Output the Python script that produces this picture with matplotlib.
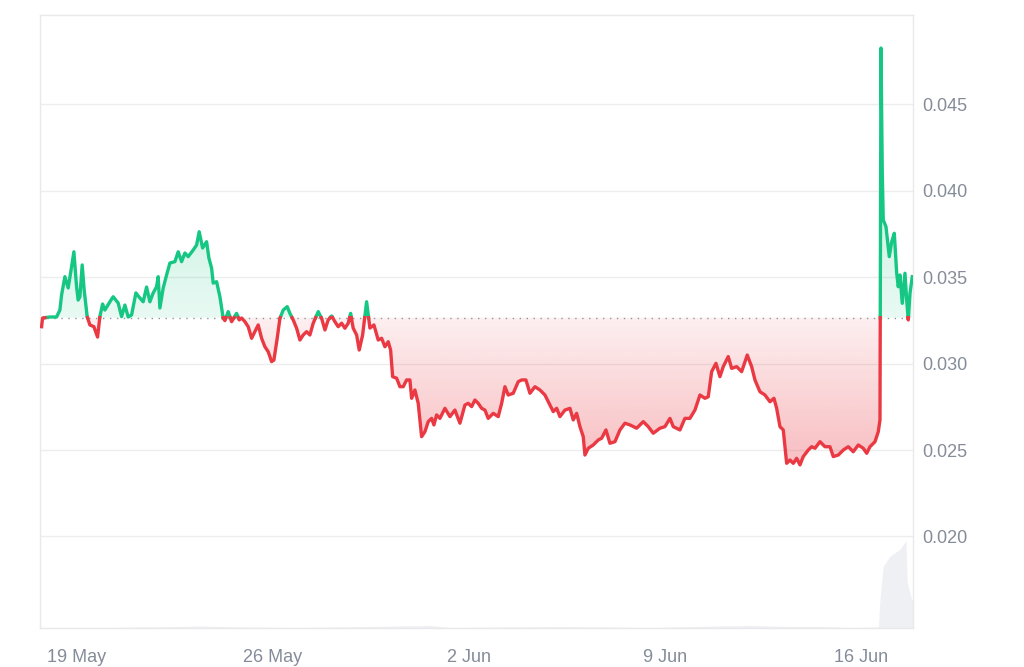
import numpy as np
import matplotlib.pyplot as plt
import matplotlib.dates as mdates
from matplotlib.colors import to_rgb
from matplotlib.path import Path

plt.rcParams['font.family'] = ['Liberation Sans', 'DejaVu Sans']

# price series, days counted from 19 May
days = [-1.241, -1.206, -0.945, -0.706, -0.589, -0.528, -0.410, -0.293, -0.207, -0.089,
        0.007, 0.064, 0.125, 0.207, 0.278, 0.385, 0.482, 0.624, 0.756, 0.838,
        0.935, 1.017, 1.195, 1.313, 1.491, 1.613, 1.731, 1.848, 1.969, 2.123,
        2.265, 2.383, 2.504, 2.622, 2.740, 2.861, 2.918, 2.979, 3.097, 3.218,
        3.336, 3.514, 3.632, 3.753, 3.871, 3.989, 4.167, 4.288, 4.381, 4.502,
        4.645, 4.727, 4.823, 4.881, 5.002, 5.120, 5.237, 5.298, 5.416, 5.537,
        5.715, 5.808, 5.894, 6.011, 6.129, 6.250, 6.368, 6.486, 6.607, 6.725,
        6.843, 6.964, 7.046, 7.164, 7.260, 7.378, 7.521, 7.617, 7.735, 7.856,
        7.974, 8.091, 8.213, 8.330, 8.448, 8.627, 8.748, 8.866, 8.983, 9.105,
        9.222, 9.340, 9.461, 9.579, 9.697, 9.782, 9.875, 9.997, 10.089, 10.211,
        10.353, 10.471, 10.614, 10.767, 10.888, 11.006, 11.124, 11.209, 11.281, 11.424,
        11.541, 11.659, 11.780, 11.898, 11.959, 12.076, 12.194, 12.315, 12.433, 12.551,
        12.672, 12.754, 12.850, 12.968, 13.147, 13.325, 13.503, 13.682, 13.860, 13.978,
        14.099, 14.217, 14.334, 14.456, 14.573, 14.691, 14.870, 15.048, 15.170, 15.287,
        15.405, 15.583, 15.762, 15.883, 16.036, 16.179, 16.357, 16.536, 16.714, 16.892,
        17.010, 17.132, 17.249, 17.428, 17.606, 17.724, 17.845, 17.963, 18.081, 18.141,
        18.259, 18.437, 18.616, 18.737, 18.891, 19.033, 19.212, 19.390, 19.568, 19.747,
        19.986, 20.221, 20.400, 20.578, 20.817, 20.995, 21.174, 21.291, 21.530, 21.708,
        21.887, 22.065, 22.244, 22.422, 22.540, 22.661, 22.815, 22.957, 23.075, 23.253,
        23.375, 23.553, 23.731, 23.931, 24.088, 24.206, 24.384, 24.563, 24.741, 24.884,
        24.980, 25.098, 25.216, 25.337, 25.455, 25.573, 25.694, 25.812, 25.929, 26.108,
        26.229, 26.347, 26.525, 26.704, 26.882, 27.000, 27.178, 27.357, 27.535, 27.713,
        27.892, 28.070, 28.192, 28.309, 28.488, 28.605, 28.666, 28.701, 28.748, 28.783,
        28.880, 28.997, 29.083, 29.176, 29.262, 29.318, 29.379, 29.461, 29.557, 29.618,
        29.675, 29.736, 29.818]
price = [0.03213, 0.03263, 0.03269, 0.03269, 0.03309, 0.03396, 0.03502, 0.03437, 0.03523, 0.03646,
         0.03444, 0.03367, 0.03386, 0.03570, 0.03425, 0.03271, 0.03223, 0.03213, 0.03153, 0.03271,
         0.03344, 0.03309, 0.03357, 0.03386, 0.03350, 0.03271, 0.03338, 0.03269, 0.03281, 0.03408,
         0.03379, 0.03357, 0.03442, 0.03357, 0.03408, 0.03444, 0.03502, 0.03321, 0.03437, 0.03512,
         0.03581, 0.03589, 0.03646, 0.03589, 0.03639, 0.03618, 0.03656, 0.03685, 0.03762, 0.03668,
         0.03704, 0.03610, 0.03552, 0.03465, 0.03473, 0.03386, 0.03263, 0.03248, 0.03300, 0.03242,
         0.03290, 0.03252, 0.03263, 0.03242, 0.03213, 0.03146, 0.03184, 0.03223, 0.03146, 0.03097,
         0.03068, 0.03011, 0.03020, 0.03146, 0.03261, 0.03309, 0.03329, 0.03290, 0.03252, 0.03204,
         0.03136, 0.03165, 0.03184, 0.03165, 0.03233, 0.03300, 0.03261, 0.03194, 0.03252, 0.03275,
         0.03242, 0.03213, 0.03233, 0.03204, 0.03233, 0.03290, 0.03204, 0.03165, 0.03078, 0.03165,
         0.03357, 0.03205, 0.03223, 0.03136, 0.03146, 0.03097, 0.03126, 0.03078, 0.02924, 0.02915,
         0.02866, 0.02866, 0.02905, 0.02905, 0.02799, 0.02847, 0.02770, 0.02577, 0.02606, 0.02664,
         0.02683, 0.02645, 0.02703, 0.02683, 0.02741, 0.02693, 0.02731, 0.02655, 0.02760, 0.02770,
         0.02751, 0.02789, 0.02770, 0.02741, 0.02731, 0.02683, 0.02712, 0.02693, 0.02770, 0.02866,
         0.02818, 0.02828, 0.02895, 0.02905, 0.02905, 0.02828, 0.02866, 0.02847, 0.02818, 0.02760,
         0.02722, 0.02741, 0.02693, 0.02731, 0.02741, 0.02674, 0.02712, 0.02635, 0.02577, 0.02471,
         0.02510, 0.02529, 0.02558, 0.02568, 0.02616, 0.02539, 0.02548, 0.02616, 0.02655, 0.02645,
         0.02626, 0.02664, 0.02635, 0.02597, 0.02626, 0.02635, 0.02683, 0.02635, 0.02616, 0.02683,
         0.02683, 0.02731, 0.02818, 0.02799, 0.02808, 0.02953, 0.03001, 0.02924, 0.02982, 0.03040,
         0.02972, 0.02982, 0.02953, 0.03049, 0.02982, 0.02905, 0.02837, 0.02818, 0.02779, 0.02799,
         0.02741, 0.02635, 0.02616, 0.02423, 0.02442, 0.02423, 0.02452, 0.02414, 0.02462, 0.02500,
         0.02519, 0.02510, 0.02548, 0.02519, 0.02519, 0.02462, 0.02471, 0.02500, 0.02519, 0.02490,
         0.02529, 0.02510, 0.02481, 0.02519, 0.02548, 0.02606, 0.02674, 0.04824, 0.04100, 0.03830,
         0.03791, 0.03618, 0.03704, 0.03753, 0.03522, 0.03444, 0.03512, 0.03348, 0.03522, 0.03367,
         0.03252, 0.03406, 0.03502]
baseline = 0.03265

# trading volume (millions), mostly flat until the last day
vol_days = [-1.30, 0.84, 3.69, 4.41, 5.83, 7.97, 11.54, 12.61, 13.33, 17.25, 19.03, 20.46,
            22.96, 24.03, 25.46, 26.53, 27.60, 28.61, 28.67, 28.78, 29.02, 29.38, 29.59,
            29.64, 29.80, 29.84]
volume = [0.05, 0.05, 0.15, 0.2, 0.1, 0.05, 0.2, 0.25, 0.05, 0.15, 0.1, 0.05,
          0.2, 0.25, 0.15, 0.15, 0.05, 0.1, 3.0, 6.1, 7.1, 7.8, 8.6,
          4.5, 2.8, 2.8]

start = "2024-05-19"
tick_dates = ["2024-05-19", "2024-05-26", "2024-06-02", "2024-06-09", "2024-06-16"]
tick_labels = ["19 May", "26 May", "2 Jun", "9 Jun", "16 Jun"]
y_ticks = [0.020, 0.025, 0.030, 0.035, 0.040, 0.045]
y_labels = ["0.020", "0.025", "0.030", "0.035", "0.040", "0.045"]

green = '#16c784'
red = '#ea3943'

t0 = mdates.datestr2num(start)
x = t0 + np.array(days)
y = np.array(price)

# add crossing points so the line changes colour exactly at the baseline
xs, ys = [x[0]], [y[0]]
for i in range(1, len(x)):
    a, b = y[i - 1] - baseline, y[i] - baseline
    if a * b < 0:
        f = a / (a - b)
        xs.append(x[i - 1] + f * (x[i] - x[i - 1]))
        ys.append(baseline)
    xs.append(x[i])
    ys.append(y[i])
xs = np.array(xs)
ys = np.array(ys)

fig = plt.figure(figsize=(10.24, 6.67), dpi=100)
ax = fig.add_axes([0.039, 0.0585, 0.8525, 0.919])
ax2 = ax.twinx()
ax.set_zorder(ax2.get_zorder() + 1)
ax.patch.set_visible(False)

x0, x1 = t0 - 1.30, t0 + 29.84
ylo, yhi = 0.01471, 0.05015

# volume
ax2.fill_between(t0 + np.array(vol_days), volume, color='#eef0f3', lw=0)
ax2.set_ylim(0, max(volume) * 7.05)
ax2.set_xlim(x0, x1)
ax2.axis('off')

# gradient fills
n = 300
up = ax.fill_between(xs, ys, baseline, where=ys >= baseline, color='none', lw=0)
dn = ax.fill_between(xs, ys, baseline, where=ys <= baseline, color='none', lw=0)

gy = np.linspace(baseline, yhi, n)
img = np.zeros((n, 1, 4))
img[:, 0, :3] = to_rgb(green)
img[:, 0, 3] = np.clip(0.10 + 16 * (gy - baseline), 0, 0.25)
im = ax.imshow(img, extent=[x0, x1, baseline, yhi], origin='lower', aspect='auto', zorder=1)
im.set_clip_path(Path.make_compound_path(*up.get_paths()), transform=ax.transData)

ry = np.linspace(ylo, baseline, n)
img = np.zeros((n, 1, 4))
img[:, 0, :3] = to_rgb(red)
img[:, 0, 3] = np.clip(0.08 + 30 * (baseline - ry), 0, 0.3)
im = ax.imshow(img, extent=[x0, x1, ylo, baseline], origin='lower', aspect='auto', zorder=1)
im.set_clip_path(Path.make_compound_path(*dn.get_paths()), transform=ax.transData)

# baseline and price line
ax.axhline(baseline, color='#8f959c', lw=1, ls=(0, (1, 4)), zorder=2)
ax.plot(xs, np.ma.masked_where(ys < baseline - 1e-9, ys), color=green, lw=2.4, zorder=3,
        solid_joinstyle='round')
ax.plot(xs, np.ma.masked_where(ys > baseline + 1e-9, ys), color=red, lw=2.4, zorder=3,
        solid_joinstyle='round')

ax.set_xlim(x0, x1)
ax.set_ylim(ylo, yhi)

ax.yaxis.tick_right()
ax.set_yticks(y_ticks)
ax.set_yticklabels(y_labels)
ax.set_xticks([mdates.datestr2num(d) for d in tick_dates])
ax.set_xticklabels(tick_labels)
ax.tick_params(axis='y', length=0, pad=7, labelsize=13, labelcolor='#858c99')
ax.tick_params(axis='x', length=0, pad=15, labelsize=13, labelcolor='#858c99')
ax.grid(True, axis='y', color='#ededed', lw=1)
ax.set_axisbelow(True)
for s in ax.spines.values():
    s.set_color('#e9e9e9')
    s.set_linewidth(1)

fig.savefig('out.png', dpi=100)
